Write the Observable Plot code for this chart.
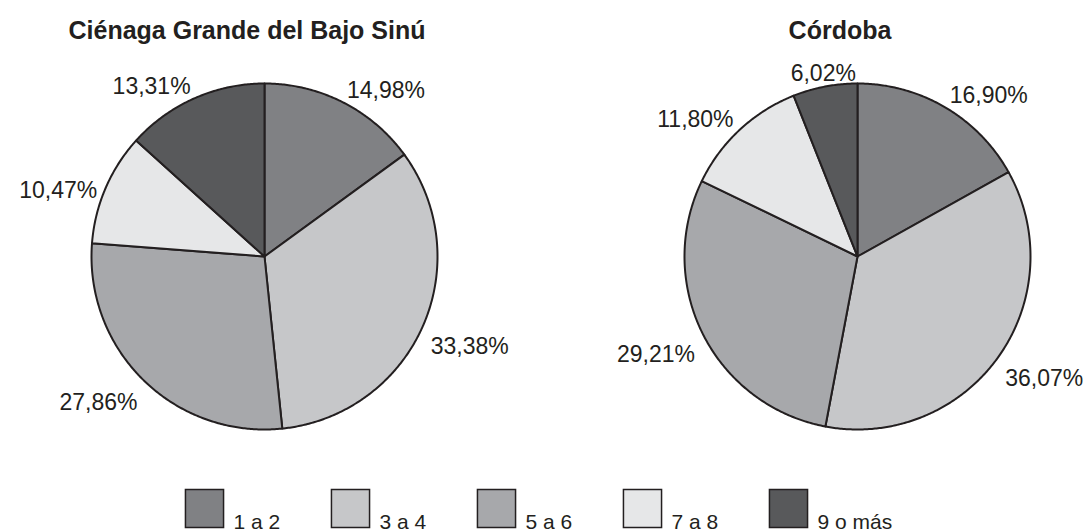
<!DOCTYPE html>
<html>
<head>
<meta charset="utf-8">
<script src="https://cdn.jsdelivr.net/npm/d3@7"></script>
<script src="https://cdn.jsdelivr.net/npm/@observablehq/plot@0.6"></script>
<style>
  body { margin: 0; background: #fff; }
  svg { display: block; }
  g[aria-label="legend-text"] text { letter-spacing: 1px; }
  g[aria-label="title"] text { letter-spacing: 0.3px; }
</style>
</head>
<body>
<div id="chart"></div>
<script>
// ---- data ----
const regions = ["Ciénaga Grande del Bajo Sinú", "Córdoba"];
const categories = ["1 a 2", "3 a 4", "5 a 6", "7 a 8", "9 o más"];
const cienagaValues = [14.98, 33.38, 27.86, 10.47, 13.31];
const cordobaValues = [16.90, 36.07, 29.21, 11.80, 6.02];
const grays = ["#808184", "#c6c7c9", "#a7a8ab", "#e6e7e8", "#58595b"];

// ---- layout ----
const W = 1086, H = 485, LEG_H = 46;
const R = 173;        // pie radius in px
const CX = 264;       // pie centre within facet, px
const CY = 256;       // pie centre, px
const TOP = 50;       // top margin for titles
const STEP = 593;     // facet step
const inner = 2 - W / STEP;
const bw = STEP * (1 - inner);
const xDomain = [-CX / R, (bw - CX) / R];
const yDomain = [-(H - CY) / R, (CY - TOP) / R];
const LABEL_FONT = "Liberation Sans";
const LABEL_SIZE = 23;

const fmt = v => d3.format(".2f")(v).replace(".", ",") + "%";
const ctx = document.createElement("canvas").getContext("2d");
ctx.font = `${LABEL_SIZE}px '${LABEL_FONT}'`;
const textW = s => ctx.measureText(s).width;

const pie = d3.pie().sort(null).value(d => d.value);
const polys = [];
const labels = [];
[cienagaValues, cordobaValues].forEach((vals, ri) => {
  const region = regions[ri];
  const rows = categories.map((c, i) => ({category: c, value: vals[i]}));
  pie(rows).forEach((a) => {
    const key = region + "|" + a.data.category;
    const a0 = a.startAngle, a1 = a.endAngle;
    const n = Math.max(2, Math.ceil((a1 - a0) / (Math.PI / 360)));
    polys.push({region, key, category: a.data.category, x: 0, y: 0});
    for (let k = 0; k <= n; k++) {
      const t = a0 + (a1 - a0) * k / n;
      polys.push({region, key, category: a.data.category, x: Math.sin(t), y: Math.cos(t)});
    }
    polys.push({region, key, category: a.data.category, x: 0, y: 0});
    // label: inner corner of text box at mid-angle just outside the rim
    const mid = (a0 + a1) / 2, s = Math.sin(mid), c = Math.cos(mid);
    const gap = 1 + 9 / R;
    const txt = fmt(a.data.value);
    const hw = textW(txt) / 2 / R, hh = 10 / R;
    const sx = Math.abs(s) > 0.3 ? Math.sign(s) * hw : 0;
    const sy = Math.abs(c) > 0.4 ? Math.sign(c) * hh : 0;
    labels.push({region, text: txt, x: s * gap + sx, y: c * gap + sy});
  });
});

const colorScale = {type: "ordinal", domain: categories, range: grays};

const main = Plot.plot({
  width: W, height: H,
  marginTop: TOP, marginBottom: 0, marginLeft: 0, marginRight: 0,
  style: {fontFamily: `'${LABEL_FONT}', sans-serif`, color: "#231f20", background: "#fff"},
  fx: {domain: regions, paddingInner: inner, paddingOuter: 0, axis: null},
  x: {domain: xDomain, axis: null},
  y: {domain: yDomain, axis: null},
  color: colorScale,
  marks: [
    Plot.line(polys, {fx: "region", x: "x", y: "y", z: "key", fill: "category",
      stroke: "#231f20", strokeWidth: 2, strokeLinejoin: "round", curve: "linear"}),
    Plot.text(labels, {fx: "region", x: "x", y: "y", text: "text", fontSize: LABEL_SIZE,
      textAnchor: "middle", lineAnchor: "middle", dy: 6, fill: "#231f20", ariaLabel: "pct"}),
    Plot.text(regions, {fx: d => d, text: d => d, frameAnchor: "top", lineAnchor: "bottom",
      dy: -12, fontSize: 25, fontWeight: "bold", fontFamily: "'Liberation Sans', sans-serif",
      fill: "#231f20", ariaLabel: "title"})
  ]
});

const legend = Plot.plot({
  width: W, height: LEG_H, margin: 0,
  style: {fontFamily: `'${LABEL_FONT}', sans-serif`, color: "#231f20", background: "#fff"},
  x: {type: "point", domain: categories, range: [203, 788], padding: 0, axis: null},
  color: colorScale,
  marks: [
    Plot.dot(categories, {x: d => d, fill: d => d, symbol: "square", r: 21.5,
      stroke: "#231f20", strokeWidth: 1.5}),
    Plot.text(categories, {x: d => d, text: d => d, dx: 29, dy: 20, textAnchor: "start",
      lineAnchor: "bottom", fontSize: 21, fill: "#231f20", ariaLabel: "legend-text"})
  ]
});

document.getElementById("chart").append(main, legend);
</script>
</body>
</html>
